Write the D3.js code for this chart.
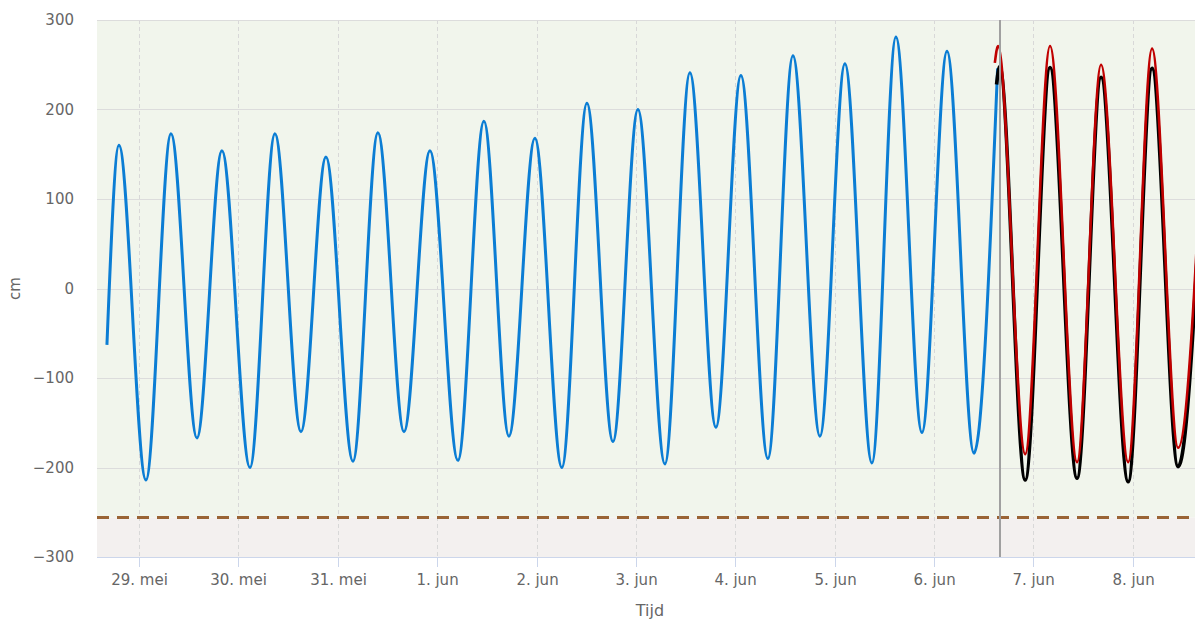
<!DOCTYPE html>
<html>
<head>
<meta charset="utf-8">
<script src="https://cdn.jsdelivr.net/npm/d3@7"></script>
<style>
  html, body { margin: 0; padding: 0; background: #fff; }
  svg { display: block; font-family: "DejaVu Sans", sans-serif; }
</style>
</head>
<body>
<svg></svg>
<script>
const measuredTimes = ["2021-05-28 16:16", "2021-05-28 19:10", "2021-05-29 01:41", "2021-05-29 07:44", "2021-05-29 14:00",
  "2021-05-29 20:02", "2021-05-30 02:48", "2021-05-30 08:50", "2021-05-30 15:07", "2021-05-30 21:09",
  "2021-05-31 03:40", "2021-05-31 09:42", "2021-05-31 16:00", "2021-05-31 22:16", "2021-06-01 05:01",
  "2021-06-01 11:18", "2021-06-01 17:20", "2021-06-01 23:36", "2021-06-02 06:07", "2021-06-02 12:10",
  "2021-06-02 18:27", "2021-06-03 00:29", "2021-06-03 07:00", "2021-06-03 13:02", "2021-06-03 19:19",
  "2021-06-04 01:21", "2021-06-04 07:52", "2021-06-04 13:55", "2021-06-04 20:26", "2021-06-05 02:28",
  "2021-06-05 08:59", "2021-06-05 14:47", "2021-06-05 21:04", "2021-06-06 03:07", "2021-06-06 09:38",
  "2021-06-06 15:20"];
const measuredValues = [-63, 160, -214, 173, -167, 154, -200, 173, -160, 147, -193, 174, -160, 154, -192,
  187, -165, 168, -200, 207, -171, 200, -196, 241, -155, 238, -190, 260, -165, 251, -195, 281, -161, 265, -184, 246];

const forecastTimes = ["2021-06-06 14:40", "2021-06-06 15:26", "2021-06-06 22:00", "2021-06-07 04:00",
  "2021-06-07 10:31", "2021-06-07 16:19", "2021-06-07 22:52", "2021-06-08 04:38", "2021-06-08 10:55", "2021-06-08 17:40"];
const forecastValues = [252, 271, -185, 271, -194, 250, -194, 268, -178, 255];

const astroTimes = ["2021-06-06 15:05", "2021-06-06 15:50", "2021-06-06 22:00", "2021-06-07 04:00",
  "2021-06-07 10:31", "2021-06-07 16:19", "2021-06-07 22:52", "2021-06-08 04:38", "2021-06-08 10:55", "2021-06-08 17:40"];
const astroValues = [228, 248, -214, 247, -212, 236, -216, 246, -199, 235];

const yTicks = [-300, -200, -100, 0, 100, 200, 300];
const monthNames = ["jan", "feb", "mrt", "apr", "mei", "jun", "jul", "aug", "sep", "okt", "nov", "dec"];
const xStart = "2021-05-28 13:52", xEnd = "2021-06-08 15:00";
const nowTime = "2021-06-06 15:55";
const lowLimit = -256;

const width = 1195, height = 624;
const margin = {top: 20, right: 0, bottom: 67, left: 97};
const parse = d3.timeParse("%Y-%m-%d %H:%M");

const svg = d3.select("svg").attr("width", width).attr("height", height);

const x = d3.scaleTime()
    .domain([parse(xStart), parse(xEnd)])
    .range([margin.left, width - margin.right]);
const y = d3.scaleLinear()
    .domain([-300, 300])
    .range([height - margin.bottom, margin.top]);

const pw = width - margin.right - margin.left;

// backgrounds
svg.append("rect")
    .attr("x", margin.left).attr("y", y(300))
    .attr("width", pw).attr("height", y(lowLimit) - y(300))
    .attr("fill", "#f1f5ec");
svg.append("rect")
    .attr("x", margin.left).attr("y", y(lowLimit))
    .attr("width", pw).attr("height", y(-300) - y(lowLimit))
    .attr("fill", "#f3f0ef");

// grid
const days = d3.timeDay.range(parse(xStart), parse(xEnd)).filter(d => d >= parse(xStart));
svg.append("g").selectAll("line")
    .data(days)
    .enter().append("line")
    .attr("x1", d => Math.round(x(d)) + 0.5).attr("x2", d => Math.round(x(d)) + 0.5)
    .attr("y1", y(300)).attr("y2", y(-300))
    .attr("stroke", "#d8d8d8")
    .attr("stroke-dasharray", "4,3");

svg.append("g").selectAll("line")
    .data(yTicks.filter(d => d > -300))
    .enter().append("line")
    .attr("x1", margin.left).attr("x2", width - margin.right)
    .attr("y1", d => Math.round(y(d)) + 0.5).attr("y2", d => Math.round(y(d)) + 0.5)
    .attr("stroke", "#dcdcdc");

// lower limit dashed line
svg.append("line")
    .attr("x1", margin.left).attr("x2", width - margin.right)
    .attr("y1", y(lowLimit)).attr("y2", y(lowLimit))
    .attr("stroke", "#9a6435")
    .attr("stroke-width", 3)
    .attr("stroke-dasharray", "12,8");

// series
svg.append("clipPath").attr("id", "clip")
    .append("rect")
    .attr("x", margin.left).attr("y", margin.top - 5)
    .attr("width", pw).attr("height", y(-300) - margin.top + 5);

const line = d3.line()
    .x(d => x(d[0]))
    .y(d => y(d[1]))
    .curve(d3.curveMonotoneX);

const plot = svg.append("g").attr("clip-path", "url(#clip)");

plot.append("path")
    .datum(measuredTimes.map((t, i) => [parse(t), measuredValues[i]]))
    .attr("d", line)
    .attr("fill", "none")
    .attr("stroke", "#0b7dd4")
    .attr("stroke-width", 3);

plot.append("path")
    .datum(astroTimes.map((t, i) => [parse(t), astroValues[i]]))
    .attr("d", line)
    .attr("fill", "none")
    .attr("stroke", "#000")
    .attr("stroke-width", 3.6);

plot.append("path")
    .datum(forecastTimes.map((t, i) => [parse(t), forecastValues[i]]))
    .attr("d", line)
    .attr("fill", "none")
    .attr("stroke", "#c00000")
    .attr("stroke-width", 2.6);

// now line
const nx = Math.round(x(parse(nowTime)));
svg.append("line")
    .attr("x1", nx).attr("x2", nx)
    .attr("y1", y(300)).attr("y2", y(-300))
    .attr("stroke", "#a0a0a0")
    .attr("stroke-width", 2);

// x axis
const xAxis = svg.append("g");
xAxis.append("line")
    .attr("x1", margin.left).attr("x2", width - margin.right)
    .attr("y1", y(-300) + 0.5).attr("y2", y(-300) + 0.5)
    .attr("stroke", "#ccd6eb");
const xt = xAxis.selectAll("g.tick")
    .data(days)
    .enter().append("g")
    .attr("class", "tick")
    .attr("transform", d => `translate(${Math.round(x(d)) + 0.5},0)`);
xt.append("line")
    .attr("y1", y(-300)).attr("y2", y(-300) + 10)
    .attr("stroke", "#ccd6eb");
xt.append("text")
    .attr("y", 585)
    .attr("text-anchor", "middle")
    .attr("fill", "#666")
    .style("font-size", "15px")
    .text(d => `${d.getDate()}. ${monthNames[d.getMonth()]}`);

svg.append("text")
    .attr("x", margin.left + pw / 2 + 4)
    .attr("y", 616)
    .attr("text-anchor", "middle")
    .attr("fill", "#666")
    .style("font-size", "16px")
    .text("Tijd");

// y axis
svg.append("g").selectAll("text")
    .data(yTicks)
    .enter().append("text")
    .attr("x", 74)
    .attr("y", d => y(d) + 5)
    .attr("text-anchor", "end")
    .attr("fill", "#666")
    .style("font-size", "15px")
    .text(d => d3.format("d")(d));

svg.append("text")
    .attr("transform", `translate(20,${y(0)}) rotate(-90)`)
    .attr("text-anchor", "middle")
    .attr("fill", "#666")
    .style("font-size", "15px")
    .text("cm");
</script>
</body>
</html>
